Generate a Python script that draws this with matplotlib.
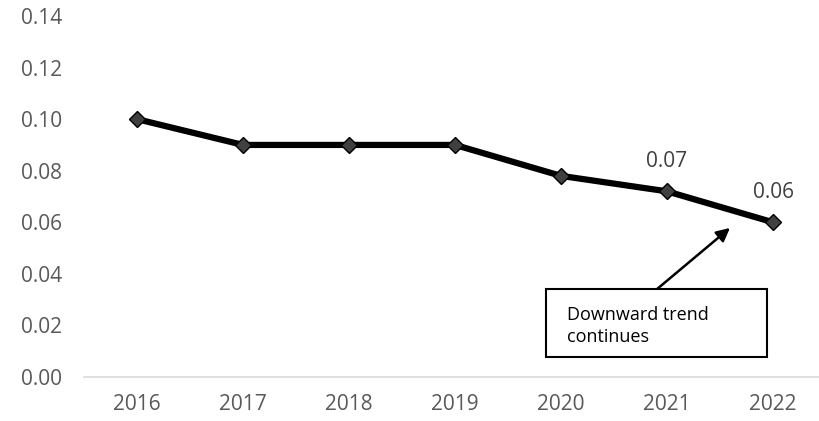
import matplotlib
matplotlib.use("Agg")
import matplotlib.pyplot as plt
from matplotlib.patches import Rectangle

years = ["2016", "2017", "2018", "2019", "2020", "2021", "2022"]
values = [0.100, 0.090, 0.090, 0.090, 0.078, 0.072, 0.060]
labeled_points = {5: "0.07", 6: "0.06"}
y_ticks = [0.00, 0.02, 0.04, 0.06, 0.08, 0.10, 0.12, 0.14]

plt.rcParams["font.family"] = ["Open Sans", "DejaVu Sans"]

W, H = 819, 421
fig = plt.figure(figsize=(W / 100, H / 100), dpi=100)
ax = fig.add_axes([84 / W, (H - 377) / H, (W - 84) / W, 361 / H])

x = list(range(len(years)))
ax.plot(x, values, color="black", linewidth=4.5, solid_joinstyle="round",
        marker="D", markersize=8, markerfacecolor="#404040",
        markeredgecolor="black", markeredgewidth=1, zorder=3)

for i, txt in labeled_points.items():
    ax.annotate(txt, (x[i], values[i]), xytext=(0, 14), textcoords="offset points",
                ha="center", va="bottom", fontsize=15, color="#404040")

ax.set_xlim(-0.5, (W - 137) / 106)
ax.set_ylim(0, 0.14)
ax.set_xticks(x)
ax.set_xticklabels(years)
ax.set_yticks(y_ticks)
ax.set_yticklabels([f"{v:.2f}" for v in y_ticks])
ax.tick_params(axis="both", length=0, labelsize=15, colors="#595959")
ax.tick_params(axis="y", pad=16)
ax.tick_params(axis="x", pad=12)

for side in ("left", "right", "top"):
    ax.spines[side].set_visible(False)
ax.spines["bottom"].set_color("#d9d9d9")
ax.spines["bottom"].set_linewidth(1.2)

# Callout box with arrow pointing at the end of the line
bx0, bx1, by_top, by_bot = 546, 767, 289, 357
fig.patches.append(Rectangle((bx0 / W, (H - by_bot) / H), (bx1 - bx0) / W,
                             (by_bot - by_top) / H, transform=fig.transFigure,
                             facecolor="white", edgecolor="black", linewidth=1.5,
                             zorder=5))
fig.text(567 / W, (H - 326) / H, "Downward trend\ncontinues", ha="left", va="center",
         fontsize=13, color="black", linespacing=1.25, zorder=6)

ax.annotate("", xy=(5.594, 0.0578), xytext=(4.906, 0.0341),
            arrowprops=dict(arrowstyle="-|>", color="black", lw=1.8,
                            mutation_scale=20, shrinkA=0, shrinkB=0))

fig.savefig("out.png", dpi=100)
